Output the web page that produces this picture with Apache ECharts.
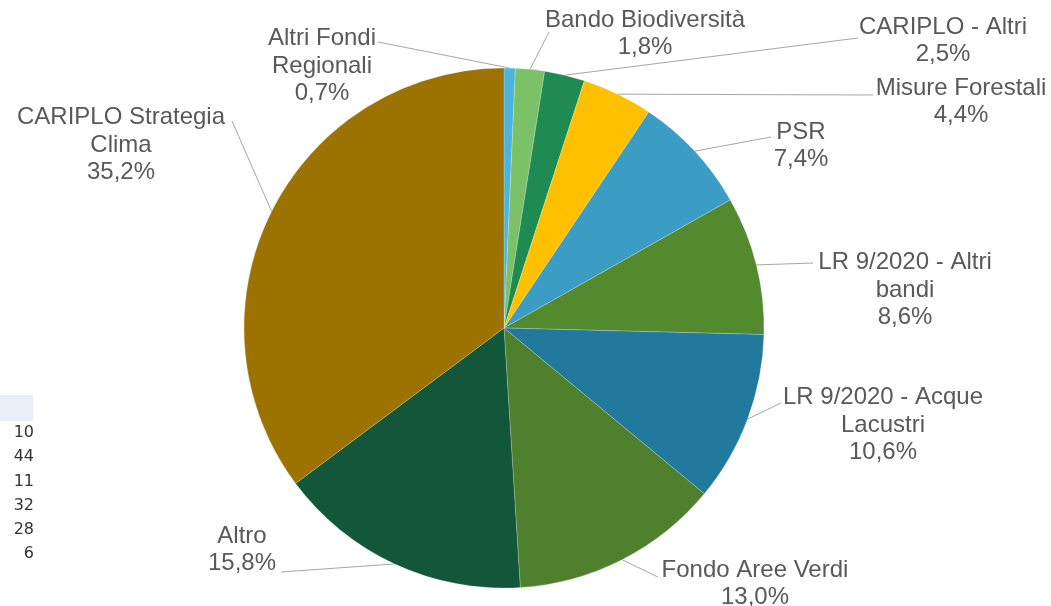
<!DOCTYPE html>
<html>
<head>
<meta charset="utf-8">
<script src="https://cdn.jsdelivr.net/npm/echarts@6/dist/echarts.min.js"></script>
<style>
html,body{margin:0;padding:0;background:#fff;}
#chart{width:1051px;height:606px;}
</style>
</head>
<body>
<div id="chart"></div>
<script>
// ---- data ----
const categories = [
  'Altri Fondi\nRegionali',
  'Bando Biodiversità',
  'CARIPLO - Altri',
  'Misure Forestali',
  'PSR',
  'LR 9/2020 - Altri\nbandi',
  'LR 9/2020 - Acque\nLacustri',
  'Fondo Aree Verdi',
  'Altro',
  'CARIPLO Strategia\nClima'
];
const shares = [0.7, 1.8, 2.5, 4.4, 7.4, 8.6, 10.6, 13.0, 15.8, 35.2];
const sheetNumbers = ['10', '44', '11', '32', '28', '6'];

// ---- styles ----
const colors = ['#4db5db', '#7bc167', '#1f8b52', '#ffc000', '#3b9dc3', '#548a2e', '#22799e', '#4f802d', '#13573a', '#9c7200'];
// label block centres and line end points (layout only)
const labelPos = [
  {x: 322, y: 66, lx: 378, ly: 42},
  {x: 645, y: 34, lx: 549, ly: 32},
  {x: 943, y: 41, lx: 858, ly: 38},
  {x: 961, y: 102, lx: 873, ly: 95},
  {x: 801, y: 146, lx: 771, ly: 137},
  {x: 905, y: 290, lx: 813, ly: 263},
  {x: 883, y: 425, lx: 781, ly: 403},
  {x: 755, y: 584, lx: 658, ly: 577},
  {x: 242, y: 550, lx: 281, ly: 572},
  {x: 121, y: 145, lx: 232, ly: 121}
];

const chart = echarts.init(document.getElementById('chart'));
const graphics = [
  {type: 'rect', shape: {x: 0, y: 395, width: 33, height: 26}, style: {fill: '#e8eff8'}, silent: true}
];
sheetNumbers.forEach((t, i) => {
  graphics.push({
    type: 'text', x: 34, y: 433 + i * 24.2,
    style: {text: t, fill: '#333333', font: '16px "DejaVu Sans", sans-serif', textAlign: 'right', textVerticalAlign: 'middle'},
    silent: true
  });
});

chart.setOption({
  backgroundColor: '#ffffff',
  animation: false,
  graphic: graphics,
  series: [{
    type: 'pie',
    center: [504, 328],
    radius: 260,
    startAngle: 90,
    clockwise: true,
    avoidLabelOverlap: false,
    data: categories.map((c, i) => ({name: c, value: shares[i], itemStyle: {color: colors[i]}})),
    itemStyle: {borderColor: 'rgba(255,255,255,0.35)', borderWidth: 0.6},
    label: {
      show: true,
      position: 'outside',
      color: '#595959',
      fontFamily: '"Liberation Sans", Arial, sans-serif',
      fontSize: 24,
      lineHeight: 27.5,
      align: 'center',
      formatter: p => p.name + '\n' + p.value.toFixed(1).replace('.', ',') + '%'
    },
    labelLine: {show: true, length: 10, length2: 10, lineStyle: {color: '#a6a6a6', width: 1}},
    labelLayout: function (params) {
      const lp = labelPos[params.dataIndex];
      const pts = params.labelLinePoints;
      const start = pts ? pts[0] : [lp.lx, lp.ly];
      return {
        x: lp.x, y: lp.y, align: 'center', verticalAlign: 'middle',
        labelLinePoints: [start, start, [lp.lx, lp.ly]]
      };
    }
  }]
});
</script>
</body>
</html>
